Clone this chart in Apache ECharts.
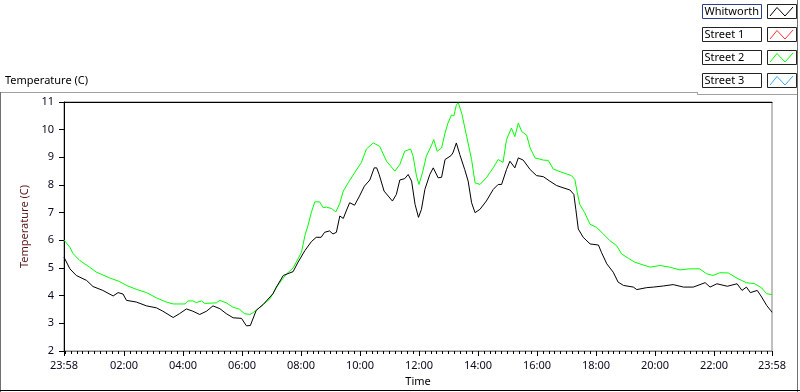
<!DOCTYPE html>
<html>
<head>
<meta charset="utf-8">
<script src="https://cdn.jsdelivr.net/npm/echarts@6/dist/echarts.min.js"></script>
<style>
  html, body { margin: 0; padding: 0; background: #fff; }
  #chart { width: 800px; height: 392px; }
</style>
</head>
<body>
<div id="chart"></div>
<script>
// minutes since 23:58 (start of the log) and temperature in C
const whitworthTime = [0, 12, 25, 46, 59, 79, 100, 110, 120, 127, 147, 168, 188, 201, 222, 235, 249, 262, 276, 290, 303, 317, 330, 344, 361, 371, 379, 391, 405, 425, 432, 446, 466, 476, 490, 503, 513, 523, 530, 540, 547, 554, 561, 568, 574, 581, 591, 601, 611, 622, 631, 636, 641, 651, 668, 676, 683, 693, 700, 707, 714, 721, 727, 734, 744, 751, 761, 768, 775, 787, 791, 798, 805, 815, 822, 829, 836, 846, 859, 873, 883, 890, 900, 907, 917, 924, 934, 948, 961, 975, 988, 1002, 1015, 1029, 1037, 1041, 1046, 1056, 1070, 1087, 1093, 1104, 1117, 1127, 1138, 1158, 1165, 1185, 1199, 1219, 1239, 1260, 1280, 1304, 1314, 1328, 1349, 1369, 1379, 1388, 1396, 1410, 1419, 1429, 1437, 1440]
const whitworthTemp = [5.39, 4.97, 4.73, 4.55, 4.33, 4.19, 3.99, 4.11, 4.06, 3.83, 3.77, 3.63, 3.56, 3.44, 3.21, 3.35, 3.52, 3.44, 3.32, 3.44, 3.63, 3.53, 3.35, 3.20, 3.18, 2.91, 2.92, 3.47, 3.68, 4.07, 4.31, 4.73, 4.87, 5.21, 5.63, 5.95, 6.11, 6.11, 6.29, 6.34, 6.23, 6.29, 6.88, 6.79, 7.06, 7.36, 7.27, 7.60, 7.96, 8.18, 8.62, 8.62, 8.38, 7.78, 7.42, 7.66, 8.18, 8.23, 8.38, 8.14, 7.30, 6.83, 7.12, 7.84, 8.38, 8.62, 8.26, 8.28, 8.92, 9.06, 9.16, 9.52, 9.10, 8.56, 8.14, 7.36, 7.00, 7.12, 7.42, 7.84, 8.02, 8.02, 8.56, 8.86, 8.62, 8.98, 8.90, 8.56, 8.34, 8.30, 8.14, 7.98, 7.90, 7.82, 7.66, 7.12, 6.41, 6.11, 5.87, 5.83, 5.57, 5.15, 4.85, 4.49, 4.37, 4.31, 4.22, 4.29, 4.31, 4.35, 4.40, 4.31, 4.31, 4.47, 4.31, 4.43, 4.34, 4.43, 4.19, 4.31, 4.11, 4.19, 3.95, 3.65, 3.47, 3.40]

const street2Time = [0, 12, 18, 32, 52, 66, 93, 113, 127, 147, 168, 188, 208, 222, 246, 252, 262, 269, 280, 286, 310, 317, 330, 344, 357, 367, 378, 385, 395, 405, 419, 432, 442, 453, 466, 476, 483, 490, 496, 503, 510, 520, 527, 534, 544, 553, 561, 568, 578, 591, 605, 615, 629, 642, 656, 673, 683, 693, 705, 710, 717, 722, 729, 737, 748, 752, 759, 768, 775, 781, 788, 793, 798, 802, 809, 819, 829, 836, 846, 859, 873, 883, 893, 900, 910, 917, 924, 931, 941, 948, 958, 975, 985, 995, 1009, 1022, 1032, 1039, 1044, 1049, 1059, 1070, 1083, 1097, 1110, 1124, 1134, 1148, 1161, 1178, 1192, 1212, 1232, 1253, 1273, 1293, 1307, 1320, 1334, 1351, 1371, 1388, 1405, 1419, 1429, 1440]
const street2Temp = [6.01, 5.75, 5.53, 5.27, 5.03, 4.85, 4.64, 4.51, 4.37, 4.23, 4.11, 3.92, 3.77, 3.70, 3.70, 3.81, 3.81, 3.75, 3.81, 3.72, 3.74, 3.83, 3.74, 3.58, 3.51, 3.35, 3.32, 3.39, 3.53, 3.68, 3.89, 4.30, 4.55, 4.79, 5.00, 5.33, 5.57, 6.17, 6.52, 7.00, 7.39, 7.39, 7.18, 7.20, 7.15, 7.03, 7.34, 7.78, 8.08, 8.44, 8.82, 9.30, 9.52, 9.40, 8.86, 8.50, 8.74, 9.22, 9.30, 9.04, 8.32, 8.02, 8.44, 9.04, 9.46, 9.64, 9.22, 9.34, 9.88, 10.24, 10.53, 10.50, 10.89, 10.97, 10.59, 9.75, 8.92, 8.08, 8.02, 8.26, 8.62, 8.92, 8.82, 9.64, 10.06, 9.75, 10.24, 9.93, 9.80, 9.34, 8.98, 8.90, 8.89, 8.58, 8.48, 8.40, 8.34, 8.20, 7.72, 7.30, 7.00, 6.58, 6.47, 6.23, 5.99, 5.81, 5.51, 5.35, 5.21, 5.11, 5.03, 5.09, 5.03, 4.93, 4.97, 4.97, 4.79, 4.73, 4.83, 4.82, 4.61, 4.47, 4.43, 4.28, 4.07, 4.04]

const seriesNames = ['Whitworth', 'Street 1', 'Street 2', 'Street 3']
const seriesColors = ['#000000', '#ff3030', '#00ff00', '#33aaff']

const xTickMinutes = [0, 122, 242, 362, 482, 602, 722, 842, 962, 1082, 1202, 1322, 1440]
const xTickLabels = ['23:58', '02:00', '04:00', '06:00', '08:00', '10:00', '12:00', '14:00', '16:00', '18:00', '20:00', '22:00', '23:58']

const FONT = 'Noto Sans'

// minor ticks every 12 min, lined up with the 2-hourly ticks
let minorTicks = [0]
for (let m = 2; m < 1440; m += 12) minorTicks.push(m)
minorTicks.push(1440)

const pairs = (t, v) => t.map((x, i) => [x, v[i]])
const dataByName = {
  'Whitworth': pairs(whitworthTime, whitworthTemp),
  'Street 1': [],
  'Street 2': pairs(street2Time, street2Temp),
  'Street 3': []
}

// legend drawn as boxes (text box + line sample box) like the original panel
let legendGraphics = []
seriesNames.forEach((name, i) => {
  const y = 4 + i * 23
  legendGraphics.push({
    type: 'rect', shape: { x: 702.5, y: y + 0.5, width: 59, height: 14 },
    style: { fill: '#fff', stroke: i === 0 ? '#2c3f8f' : '#222', lineWidth: 1 }
  })
  legendGraphics.push({
    type: 'text', x: 704.5, y: y + 8,
    style: { text: name, fill: '#000', font: '11px "' + FONT + '"', verticalAlign: 'middle' }
  })
  legendGraphics.push({
    type: 'rect', shape: { x: 767.5, y: y + 0.5, width: 29, height: 14 },
    style: { fill: '#fff', stroke: '#222', lineWidth: 1 }
  })
  legendGraphics.push({
    type: 'polyline',
    shape: { points: [[770, y + 12], [777, y + 3.5], [785, y + 12], [793, y + 3]] },
    style: { stroke: seriesColors[i], lineWidth: 1, fill: null }
  })
})

const frameGraphics = [
  { type: 'line', shape: { x1: 0, y1: 92.5, x2: 698, y2: 92.5 }, style: { stroke: '#a0a0a0', lineWidth: 1 } },
  { type: 'line', shape: { x1: 697.5, y1: 92.5, x2: 697.5, y2: 94.5 }, style: { stroke: '#a0a0a0', lineWidth: 1 } },
  { type: 'line', shape: { x1: 697.5, y1: 94.5, x2: 798, y2: 94.5 }, style: { stroke: '#a0a0a0', lineWidth: 1 } },
  { type: 'line', shape: { x1: 0.5, y1: 92, x2: 0.5, y2: 392 }, style: { stroke: '#707070', lineWidth: 1 } },
  { type: 'line', shape: { x1: 797.5, y1: 0, x2: 797.5, y2: 392 }, style: { stroke: '#707070', lineWidth: 1 } },
  { type: 'line', shape: { x1: 0, y1: 390.5, x2: 800, y2: 390.5 }, style: { stroke: '#000', lineWidth: 1 } }
]

const chart = echarts.init(document.getElementById('chart'))

chart.setOption({
  animation: false,
  backgroundColor: '#fff',
  textStyle: { fontFamily: FONT },
  title: {
    text: 'Temperature (C)',
    left: 5, top: 75, padding: 0,
    textStyle: { fontSize: 11, fontWeight: 'normal', color: '#000', fontFamily: FONT }
  },
  grid: {
    left: 64, right: 28, top: 102, bottom: 40,
    show: true, borderColor: '#808080', borderWidth: 1, backgroundColor: '#fff'
  },
  xAxis: [
    {
      type: 'value', min: 0, max: 1440, position: 'bottom',
      name: 'Time', nameLocation: 'middle', nameGap: 25,
      nameTextStyle: { fontSize: 11, color: '#000', fontFamily: FONT },
      axisLine: { lineStyle: { color: '#808080' } },
      axisTick: { customValues: minorTicks, length: 3, lineStyle: { color: '#000' } },
      axisLabel: {
        customValues: xTickMinutes, margin: 9, fontSize: 11, color: '#0a0a20', fontFamily: FONT,
        formatter: v => xTickLabels[xTickMinutes.indexOf(v)]
      },
      splitLine: { show: false }
    },
    {
      type: 'value', min: 0, max: 1440, position: 'bottom',
      axisLine: { show: false },
      axisTick: { customValues: xTickMinutes, length: 5, lineStyle: { color: '#000' } },
      axisLabel: { show: false },
      splitLine: { show: false }
    },
    {
      type: 'value', min: 0, max: 1440, position: 'top',
      axisLine: { lineStyle: { color: '#000' } },
      axisTick: { show: false },
      axisLabel: { show: false },
      splitLine: { show: false }
    }
  ],
  yAxis: {
    type: 'value', min: 2, max: 11, interval: 1,
    name: 'Temperature (C)', nameLocation: 'middle', nameGap: 26,
    nameTextStyle: { fontSize: 11, color: '#5a1818', fontFamily: FONT },
    axisLine: { show: true, lineStyle: { color: '#000' } },
    axisTick: { show: true, length: 5, lineStyle: { color: '#000' } },
    axisLabel: { margin: 10, fontSize: 11, color: '#0a0a20', fontFamily: FONT },
    splitLine: { show: false }
  },
  series: seriesNames.map((name, i) => ({
    name: name,
    type: 'line',
    xAxisIndex: 0,
    showSymbol: false,
    data: dataByName[name],
    lineStyle: { width: 1, color: seriesColors[i] },
    itemStyle: { color: seriesColors[i] },
    z: i === 0 ? 3 : 2
  })),
  graphic: frameGraphics.concat(legendGraphics)
})
</script>
</body>
</html>
